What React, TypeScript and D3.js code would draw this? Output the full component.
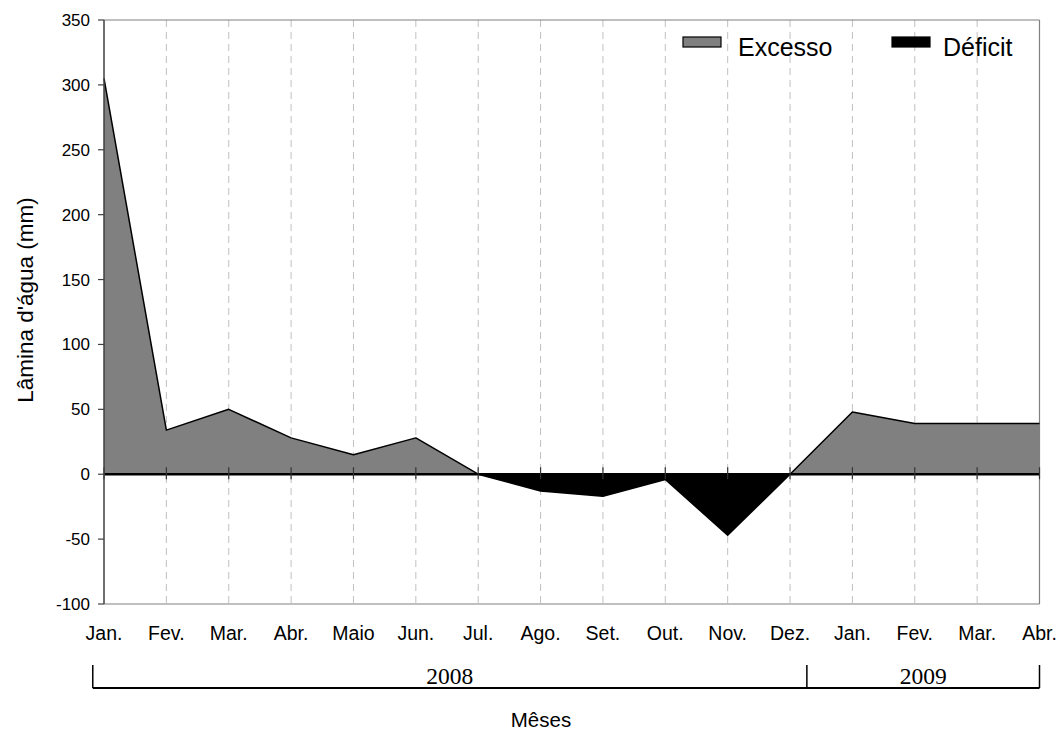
import React from "react";
import * as d3 from "d3";

const months = ["Jan.", "Fev.", "Mar.", "Abr.", "Maio", "Jun.", "Jul.", "Ago.", "Set.", "Out.", "Nov.", "Dez.", "Jan.", "Fev.", "Mar.", "Abr."];
const values = [305, 34, 50, 28, 15, 28, 0, -13, -17, -4, -47, 0, 48, 39, 39, 39];
const yTicks = [-100, -50, 0, 50, 100, 150, 200, 250, 300, 350];
const yearLabels = ["2008", "2009"];
const yearStarts = [-0.18, 11.27];
const yearEnds = [11.27, 15];
const legendLabels = ["Excesso", "Déficit"];
const legendColors = ["#808080", "#000000"];

const W = 1064;
const H = 731;
const left = 104;
const right = 1039.5;
const top = 20;
const bottom = 604;
const sans = "'Liberation Sans', Arial, sans-serif";
const serif = "'Liberation Serif', 'Times New Roman', serif";

export default function App() {
  const x = d3.scaleLinear().domain([0, months.length - 1]).range([left, right]);
  const y = d3.scaleLinear().domain([-100, 350]).range([bottom, top]);
  const idx = values.map((_, i) => i);

  const posArea = d3
    .area<number>()
    .x((i) => x(i))
    .y0(y(0))
    .y1((i) => y(Math.max(values[i], 0)));
  const negArea = d3
    .area<number>()
    .x((i) => x(i))
    .y0(y(0))
    .y1((i) => y(Math.min(values[i], 0)));
  const line = d3
    .line<number>()
    .x((i) => x(i))
    .y((i) => y(values[i]));

  const bracketY = 688;
  const bracketTop = 665;

  return (
    <svg width={W} height={H} style={{ position: "absolute", left: 0, top: 0, background: "#fff" }}>
      <rect x={0} y={0} width={W} height={H} fill="#fff" />
      {/* vertical dashed grid */}
      {idx.slice(1, -1).map((i) => (
        <line key={"g" + i} x1={x(i)} x2={x(i)} y1={top} y2={bottom} stroke="#c0c0c0" strokeWidth={1} strokeDasharray="7,5" />
      ))}
      {/* plot border */}
      <line x1={left} x2={right} y1={top} y2={top} stroke="#808080" strokeWidth={1.2} />
      <line x1={right} x2={right} y1={top} y2={bottom} stroke="#808080" strokeWidth={1.2} />
      <line x1={left} x2={right} y1={bottom} y2={bottom} stroke="#808080" strokeWidth={1.2} />

      {/* areas */}
      <path d={posArea(idx) || ""} fill="#808080" />
      <path d={negArea(idx) || ""} fill="#000" />
      <path d={line(idx) || ""} fill="none" stroke="#000" strokeWidth={1.5} strokeLinejoin="round" />

      {/* zero line */}
      <line x1={left} x2={right} y1={y(0)} y2={y(0)} stroke="#000" strokeWidth={2.5} />
      {idx.map((i) => (
        <line key={"t" + i} x1={x(i)} x2={x(i)} y1={y(0) - 7} y2={y(0) + 5} stroke="#333" strokeWidth={1.2} />
      ))}

      {/* y axis */}
      <line x1={left} x2={left} y1={top} y2={bottom} stroke="#404040" strokeWidth={1.5} />
      {yTicks.map((t) => (
        <g key={"y" + t}>
          <line x1={left - 6} x2={left} y1={y(t)} y2={y(t)} stroke="#404040" strokeWidth={1.2} />
          <text x={90} y={y(t)} dy="0.35em" textAnchor="end" fontFamily={sans} fontSize={17} fill="#000">
            {t}
          </text>
        </g>
      ))}
      <text
        transform={`translate(33, 300) rotate(-90)`}
        textAnchor="middle"
        fontFamily={sans}
        fontSize={22.5}
        fill="#000"
      >
        Lâmina d'água (mm)
      </text>

      {/* month labels */}
      {months.map((m, i) => (
        <text key={"m" + i} x={x(i)} y={640} textAnchor="middle" fontFamily={sans} fontSize={19.5} fill="#000">
          {m}
        </text>
      ))}

      {/* year brackets */}
      <line x1={x(yearStarts[0])} x2={x(yearEnds[yearEnds.length - 1])} y1={bracketY} y2={bracketY} stroke="#000" strokeWidth={2} />
      {yearStarts.concat([yearEnds[yearEnds.length - 1]]).map((s, i) => (
        <line key={"b" + i} x1={x(s)} x2={x(s)} y1={bracketTop} y2={bracketY} stroke="#000" strokeWidth={1.5} />
      ))}
      {yearLabels.map((lab, i) => (
        <text
          key={"yr" + i}
          x={(x(yearStarts[i]) + x(yearEnds[i])) / 2}
          y={684}
          textAnchor="middle"
          fontFamily={serif}
          fontSize={23.5}
          fill="#000"
        >
          {lab}
        </text>
      ))}
      <text x={541} y={727} textAnchor="middle" fontFamily={sans} fontSize={20.5} fill="#000">
        Mêses
      </text>

      {/* legend */}
      {legendLabels.map((lab, i) => {
        const sx = [683, 892][i];
        const tx = [738, 943][i];
        return (
          <g key={"l" + i}>
            <rect x={sx} y={37} width={38} height={10} fill={legendColors[i]} stroke="#000" strokeWidth={1.2} />
            <text x={tx} y={56} fontFamily={sans} fontSize={25} fill="#000">
              {lab}
            </text>
          </g>
        );
      })}
    </svg>
  );
}
